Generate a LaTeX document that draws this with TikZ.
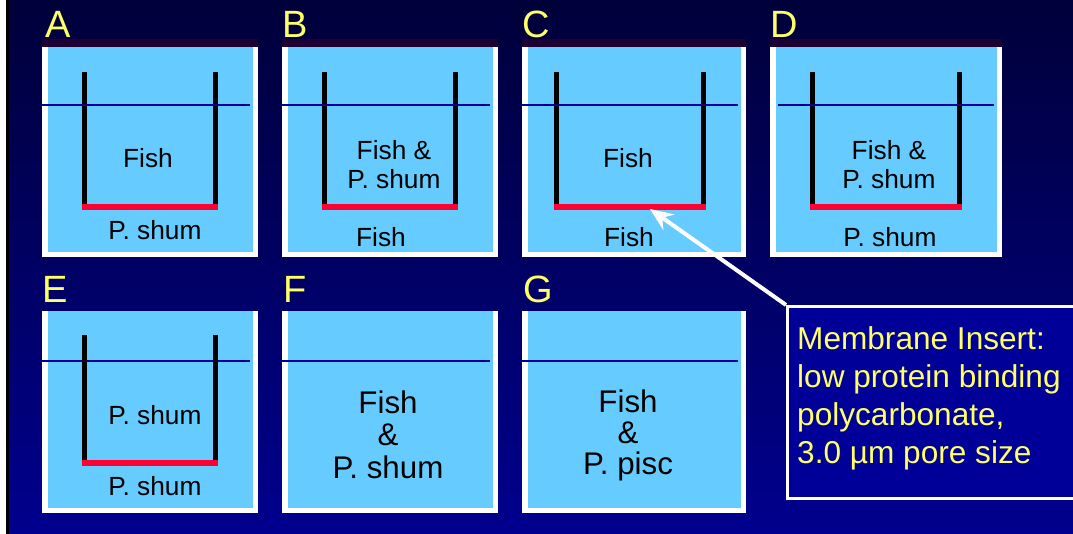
\documentclass[tikz,border=0pt]{standalone}
\usepackage{fontspec}
\setmainfont{Liberation Sans}
\usetikzlibrary{arrows.meta}
\definecolor{bgtop}{HTML}{00003A}
\definecolor{bgmid}{HTML}{000082}
\definecolor{bgbot}{HTML}{00008E}
\definecolor{pblue}{HTML}{66CCFF}
\definecolor{membr}{HTML}{FF0033}
\definecolor{surf}{HTML}{000099}
\definecolor{stripc}{HTML}{1E0032}
\definecolor{lblyellow}{HTML}{FFFF66}
\definecolor{callfill}{HTML}{000099}
\begin{document}
\begin{tikzpicture}[x=1pt,y=-1pt,
  lbl/.style={text=lblyellow, font=\fontsize{38}{40}\selectfont, anchor=base west, inner sep=0pt},
  ptxt/.style={text=black, font=\fontsize{26.3}{29}\selectfont, align=center, anchor=base, inner sep=0pt},
  btxt/.style={text=black, font=\fontsize{31.3}{32.5}\selectfont, align=center, anchor=base, inner sep=0pt},
  surface/.style={draw=surf, line width=1.5pt},
  callbox/.style={draw=white, line width=3pt, fill=callfill, anchor=north west, minimum width=300pt, minimum height=192pt, inner sep=0pt},
  calltext/.style={text=lblyellow, font=\fontsize{31.6}{38}\selectfont, align=left, anchor=base west, inner sep=0pt},
  pointer/.style={draw=white, line width=4pt, -{Stealth[length=23pt,width=19pt,inset=8pt]}}]
\useasboundingbox (0,0) rectangle (1073,534);
\shade[top color=bgtop, middle color=bgmid, bottom color=bgbot] (0,0) rectangle (1073,534);
\fill[white] (0,0) rectangle (6,534);
\fill[black] (6,0) rectangle (9,534);
% top row panels
\foreach \xa/\xb/\la/\lb/\wl/\wr in {42/258/42/250/82/213, 282/498/282/490/322/453, 522/746/522/738/554/701, 770/1002/778/994/810/957} {
  \fill[white] (\xa,47) rectangle (\xb,257);
  \fill[pblue] (\xa+5.5,47) rectangle (\xb-5,252);
  \fill[stripc] (\xa,39) rectangle (\xb,47);
  \fill[black] (\wl,72) rectangle (\wl+5,204);
  \fill[black] (\wr,72) rectangle (\wr+5,204);
  \fill[membr] (\wl,204) rectangle (\wr+5,210);
  \draw[surface] (\la,105) -- (\lb,105);
}
% bottom row panels
\foreach \xa/\xb/\lb in {42/258/250, 282/498/490, 522/746/738} {
  \fill[white] (\xa,311) rectangle (\xb,513);
  \fill[pblue] (\xa+5.5,311) rectangle (\xb-5,508);
  \draw[surface] (\xa,361) -- (\lb,361);
}
\fill[black] (82,335) rectangle (87,460);
\fill[black] (213,335) rectangle (218,460);
\fill[membr] (82,460) rectangle (218,466);
% panel letters
\node[lbl] (lA) at (45,38) {A};
\node[lbl] (lB) at (282,38) {B};
\node[lbl] (lC) at (522,38) {C};
\node[lbl] (lD) at (770,38) {D};
\node[lbl] (lE) at (42,303) {E};
\node[lbl] (lF) at (283,303) {F};
\node[lbl] (lG) at (523,303) {G};
% texts (base anchor = baseline of the last line)
\node[ptxt] (tA1) at (148,168) {Fish};
\node[ptxt] (tA2) at (155,240) {P. shum};
\node[ptxt] (tB1) at (394,189) {Fish \&\\P. shum};
\node[ptxt] (tB2) at (381,247) {Fish};
\node[ptxt] (tC1) at (628,168) {Fish};
\node[ptxt] (tC2) at (629,247) {Fish};
\node[ptxt] (tD1) at (889,189) {Fish \&\\P. shum};
\node[ptxt] (tD2) at (890,247) {P. shum};
\node[ptxt] (tE1) at (155,424) {P. shum};
\node[ptxt] (tE2) at (155,495) {P. shum};
\node[btxt] (tF) at (388,478) {Fish\\\&\\P. shum};
\node[btxt, font=\fontsize{31.3}{31}\selectfont] (tG) at (628,474) {Fish\\\&\\P. pisc};
% callout
\node[callbox] (callout) at (786,305) {};
\node[calltext] (calltxt) at (797,463) {Membrane Insert:\\low protein binding\\polycarbonate,\\3.0 µm pore size};
\coordinate (tip) at (650,209);
\draw[pointer] (callout.north west) -- (tip);
\end{tikzpicture}
\end{document}
